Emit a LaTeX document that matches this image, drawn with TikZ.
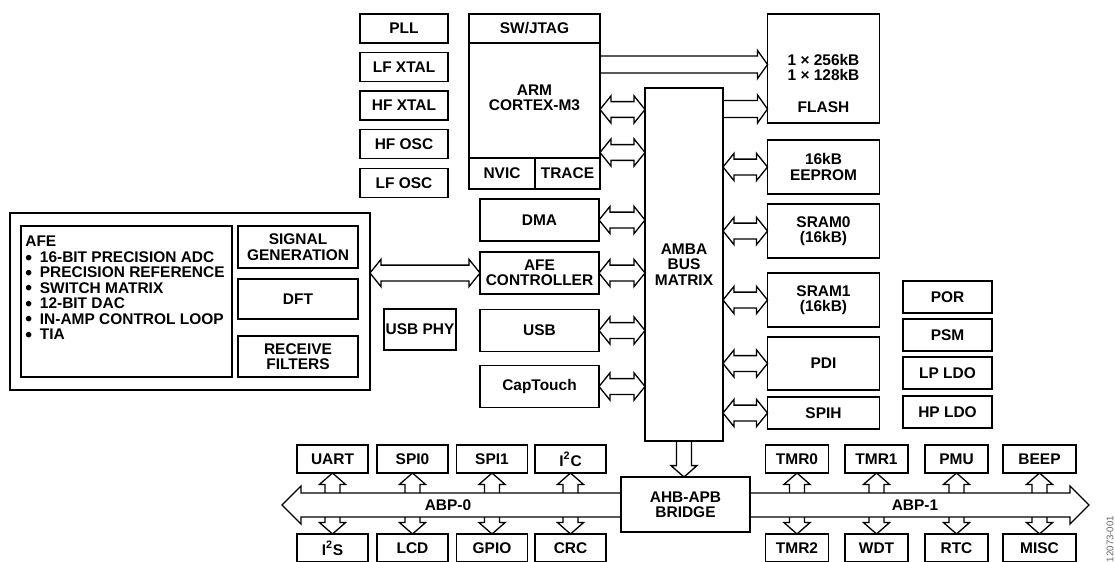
\documentclass[tikz,border=0pt]{standalone}
\usepackage{fontspec}
\setmainfont{Liberation Sans}
\usetikzlibrary{calc}

\begin{document}
\begin{tikzpicture}[
        x=0.02cm, y=-0.02cm,
        blk/.style={rectangle, draw, line width=0.75pt, outer sep=0pt, align=center, inner sep=1pt, font=\fontsize{8.8}{8.8}\selectfont\bfseries},
        osc/.style={blk, minimum width=1.76cm, minimum height=0.58cm},
        mem/.style={blk, minimum width=2.24cm},
        mst/.style={blk, minimum width=2.38cm, minimum height=0.84cm},
        pwr/.style={blk, minimum width=1.78cm, minimum height=0.64cm},
        per/.style={blk, minimum width=1.42cm, minimum height=0.56cm},
        txt/.style={align=center, inner sep=0pt, font=\fontsize{8.8}{8.8}\selectfont\bfseries},
        hueco/.style={line width=0.75pt, line join=miter},
        biarrow/.style={hueco, to path={let \p1=(\tikztostart), \p2=(\tikztotarget) in
            -- (\x1+6.3pt,\y1+7.8pt) -- (\x1+6.3pt,\y1+4.5pt) -- (\x2-6.3pt,\y1+4.5pt) -- (\x2-6.3pt,\y1+7.8pt)
            -- (\x2,\y1) -- (\x2-6.3pt,\y1-7.8pt) -- (\x2-6.3pt,\y1-4.5pt) -- (\x1+6.3pt,\y1-4.5pt)
            -- (\x1+6.3pt,\y1-7.8pt) -- cycle}},
        rarrow/.style={hueco, to path={let \p1=(\tikztostart), \p2=(\tikztotarget) in
            (\x1,\y1+4.8pt) -- (\x2-5.7pt,\y1+4.8pt) -- (\x2-5.7pt,\y1+8pt) -- (\x2,\y1)
            -- (\x2-5.7pt,\y1-8pt) -- (\x2-5.7pt,\y1-4.8pt) -- (\x1,\y1-4.8pt)}},
        varrow/.style={hueco, to path={let \p1=(\tikztostart), \p2=(\tikztotarget), \p3=($(\tikztotarget)!6.5pt!(\tikztostart)$) in
            (\x1-4.3pt,\y1) -- (\x1-4.3pt,\y3) -- (\x1-7.4pt,\y3) -- (\x2,\y2)
            -- (\x1+7.4pt,\y3) -- (\x1+4.3pt,\y3) -- (\x1+4.3pt,\y1)}}
    ]
        \useasboundingbox (0,0) rectangle (1115,561);
        \clip (0,0) rectangle (1115,561);

        % clocks
        \node[osc] (pll) at (404,28.5) {PLL};
        \node[osc] (lfxtal) at (404,67) {LF XTAL};
        \node[osc] (hfxtal) at (404,105.5) {HF XTAL};
        \node[osc] (hfosc) at (404,144) {HF OSC};
        \node[osc] (lfosc) at (404,183) {LF OSC};

        % core
        \node[blk, minimum width=2.62cm, minimum height=3.5cm] (arm) at (534.5,101.5) {};
        \node[blk, anchor=north, minimum width=2.62cm, minimum height=0.58cm] (jtag) at (arm.north) {SW/JTAG};
        \node[blk, anchor=south west, minimum width=1.32cm, minimum height=0.62cm] (nvic) at (arm.south west) {NVIC};
        \node[blk, anchor=south east, minimum width=1.30cm, minimum height=0.62cm] (trace) at (arm.south east) {TRACE};
        \node[txt] (core) at (534.5,98) {ARM\\CORTEX-M3};

        % memories
        \node[mem, minimum height=2.18cm] (flash) at (823.5,68.5) {};
        \node[txt] (flashsz) at (823.5,67.5) {1 × 256kB\\1 × 128kB};
        \node[txt] (flashlbl) at (823.5,107) {FLASH};
        \node[mem, minimum height=1.08cm] (eeprom) at (823.5,167) {16kB\\EEPROM};
        \node[mem, minimum height=1.08cm] (sram0) at (823.5,231) {SRAM0\\(16kB)};
        \node[mem, minimum height=1.08cm] (sram1) at (823.5,300) {SRAM1\\(16kB)};
        \node[mem, minimum height=1.06cm] (pdi) at (823.5,363.5) {PDI};
        \node[mem, minimum height=0.64cm] (spih) at (823.5,413) {SPIH};

        \node[blk, minimum width=1.56cm, minimum height=7.06cm] (amba) at (684,264.5) {AMBA\\BUS\\MATRIX};

        % masters
        \node[mst] (dma) at (539.5,220) {DMA};
        \node[mst] (afec) at (539.5,273) {AFE\\CONTROLLER};
        \node[mst] (usb) at (539.5,330.5) {USB};
        \node[mst] (captouch) at (539.5,386.5) {CapTouch};

        % analog front end
        \node[blk, minimum width=7.2cm, minimum height=3.54cm] (afe) at (190,301.5) {};
        \node[blk, minimum width=4.22cm, minimum height=3.02cm] (afelist) at (126.5,301.5) {};
        \node[txt, anchor=north west, align=left] (afetxt) at (25,236) {AFE\\
            \makebox[8.3pt][l]{\raisebox{-0.1em}{\scalebox{1.25}{•}}}16-BIT PRECISION ADC\\
            \makebox[8.3pt][l]{\raisebox{-0.1em}{\scalebox{1.25}{•}}}PRECISION REFERENCE\\
            \makebox[8.3pt][l]{\raisebox{-0.1em}{\scalebox{1.25}{•}}}SWITCH MATRIX\\
            \makebox[8.3pt][l]{\raisebox{-0.1em}{\scalebox{1.25}{•}}}12-BIT DAC\\
            \makebox[8.3pt][l]{\raisebox{-0.1em}{\scalebox{1.25}{•}}}IN-AMP CONTROL LOOP\\
            \makebox[8.3pt][l]{\raisebox{-0.1em}{\scalebox{1.25}{•}}}TIA};
        \node[blk, minimum width=2.4cm, minimum height=0.84cm] (siggen) at (298,247) {SIGNAL\\GENERATION};
        \node[blk, minimum width=2.4cm, minimum height=0.8cm] (dft) at (298,299) {DFT};
        \node[blk, minimum width=2.4cm, minimum height=0.82cm] (rxf) at (298,356.5) {RECEIVE\\FILTERS};
        \node[blk, minimum width=1.4cm, minimum height=0.82cm] (usbphy) at (420,329.5) {USB PHY};

        % power
        \node[pwr] (por) at (947.5,297) {POR};
        \node[pwr] (psm) at (947.5,335) {PSM};
        \node[pwr] (lpldo) at (947.5,373) {LP LDO};
        \node[pwr] (hpldo) at (947.5,412) {HP LDO};

        \node[blk, minimum width=2.58cm, minimum height=1.1cm] (bridge) at (685.5,504.5) {AHB-APB\\BRIDGE};

        % bus links
        \draw[rarrow] (arm.east |- 0,64.5) to (flash.west |- 0,64.5);
        \draw[rarrow] (amba.east |- 0,109) to (flash.west |- 0,109);
        \draw[biarrow] (arm.east |- 0,109.5) to (amba.west |- 0,109.5);
        \draw[biarrow] (arm.east |- 0,152.5) to (amba.west |- 0,152.5);
        \foreach \m in {dma,afec,usb,captouch}
            \draw[biarrow] (\m.east) to (amba.west |- \m.east);
        \foreach \m in {eeprom,sram0,sram1,pdi,spih}
            \draw[biarrow] (amba.east |- \m.west) to (\m.west);
        \draw[biarrow] (afe.east |- afec) to (afec.west);
        \draw[varrow] (amba.south) to (bridge.north -| amba.south);

        % APB buses
        \coordinate (abp0) at (282,505);
        \coordinate (abp1) at (1089,505);
        \draw[hueco] (bridge.west |- 0,493) -- (301,493) -- (301,486) -- (abp0) -- (301,524) -- (301,517) -- (bridge.west |- 0,517);
        \draw[hueco] (bridge.east |- 0,493) -- (1070,493) -- (1070,486) -- (abp1) -- (1070,524) -- (1070,517) -- (bridge.east |- 0,517);
        \node[txt] (abp0lbl) at (448,505) {ABP-0};
        \node[txt] (abp1lbl) at (915,505) {ABP-1};

        \foreach \nm/\px/\bw/\lbl in {uart/332.5/1.42/UART, spi0/412.5/1.42/SPI0, spi1/492/1.42/SPI1, i2c/570.5/1.42/{I\textsuperscript{2}C},
                tmr0/797/1.26/TMR0, tmr1/876.5/1.26/TMR1, pmu/956.5/1.26/PMU, beep/1039.5/1.46/BEEP} {
            \node[per, minimum width=\bw cm] (\nm) at (\px,459) {\lbl};
            \draw[varrow] (\nm.south |- 0,493) to (\nm.south);
        }
        \foreach \nm/\px/\bw/\lbl in {i2s/332.5/1.42/{I\textsuperscript{2}S}, lcd/412.5/1.42/LCD, gpio/492/1.42/GPIO, crc/570.5/1.42/CRC,
                tmr2/797/1.26/TMR2, wdt/876.5/1.26/WDT, rtc/956.5/1.26/RTC, misc/1039.5/1.46/MISC} {
            \node[per, minimum width=\bw cm] (\nm) at (\px,548) {\lbl};
            \draw[varrow] (\nm.north |- 0,517) to (\nm.north);
        }

        \node[rotate=90, text=black!60, font=\fontsize{5.5}{6}\selectfont] (fignum) at (1110,539) {12073-001};
    \end{tikzpicture}
\end{document}
